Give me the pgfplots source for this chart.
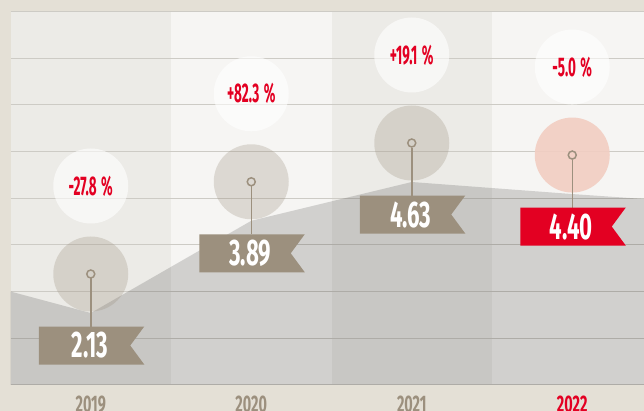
\documentclass[border=0pt]{standalone}
\usepackage{fontspec}
\setmainfont{Fira Sans}
\newfontfamily\cond{Fira Sans}[FakeStretch=0.6]
\newfontfamily\condn{Fira Sans}[FakeStretch=0.5]
\usepackage{pgfplots}
\pgfplotsset{compat=1.18}

\definecolor{frame}{HTML}{E4E0D6}
\definecolor{colA}{HTML}{ECEBE7}
\definecolor{colB}{HTML}{F6F5F3}
\definecolor{gridc}{HTML}{CDCBC5}
\definecolor{taupe}{HTML}{9C907E}
\definecolor{brandred}{HTML}{E30022}
\definecolor{pinkc}{HTML}{F2CEC2}

% marks, offsets in pt relative to the data point
\pgfdeclareplotmark{disc}{\pgfpathcircle{\pgfpoint{0pt}{39pt}}{37.5pt}\pgfusepathqfill}
\pgfdeclareplotmark{halo}{\pgfpathcircle{\pgfpoint{0pt}{127pt}}{37.5pt}\pgfusepathqfill}
\pgfdeclareplotmark{stem}{%
  \pgfpathmoveto{\pgfpoint{0pt}{-13.5pt}}%
  \pgfpathlineto{\pgfpoint{0pt}{34.5pt}}%
  \pgfusepathqstroke
  \pgfpathcircle{\pgfpoint{0pt}{39pt}}{4pt}%
  \pgfusepathqstroke}
\pgfdeclareplotmark{flag}{%
  \pgfpathmoveto{\pgfpoint{-52pt}{-13.5pt}}%
  \pgfpathlineto{\pgfpoint{53.5pt}{-13.5pt}}%
  \pgfpathlineto{\pgfpoint{39.5pt}{-32.5pt}}%
  \pgfpathlineto{\pgfpoint{53.5pt}{-51.5pt}}%
  \pgfpathlineto{\pgfpoint{-52pt}{-51.5pt}}%
  \pgfpathclose
  \pgfusepathqfill}

\begin{document}
\begin{tikzpicture}
\fill[frame] (0,0) rectangle (644pt,411pt);
% alternating year columns
\fill[colA] (10.5pt,26pt) rectangle (171pt,399.5pt);
\fill[colB] (171pt,26pt) rectangle (331.5pt,399.5pt);
\fill[colA] (331.5pt,26pt) rectangle (492pt,399.5pt);
\fill[colB] (492pt,26pt) rectangle (644pt,399.5pt);
\begin{axis}[
  at={(10.5pt,26pt)}, anchor=south west,
  scale only axis, width=633.5pt, height=373.5pt,
  xmin=-0.5, xmax=3.447,
  ymin=0.756, ymax=7.884,
  xtick={0,1,2,3},
  xticklabels={2019,2020,2021,\textcolor{brandred}{2022}},
  xticklabel style={anchor=north, inner sep=0pt, yshift=-11pt,
    text=taupe, font=\cond\bfseries\fontsize{24}{24}\selectfont},
  ytick={0.756,1.647,2.538,3.429,4.32,5.211,6.102,6.993,7.884},
  yticklabels={},
  ymajorgrids,
  grid style={gridc, line width=1pt},
  axis line style={draw=none},
  tick style={draw=none},
]
% area
\addplot[draw=none, fill=black, fill opacity=0.15]
  coordinates {(-1,2.95) (0,2.13) (1,3.89) (2,4.63) (3,4.40) (4,4.19)} \closedcycle;

% discs
\addplot[only marks, mark=disc, mark options={fill=taupe, fill opacity=0.28}]
  coordinates {(0,2.13) (1,3.89) (2,4.63)};
\addplot[only marks, mark=disc, mark options={fill=pinkc, fill opacity=0.9}]
  coordinates {(3,4.40)};
\addplot[only marks, mark=halo, mark options={fill=white, fill opacity=0.6}]
  coordinates {(0,2.13) (1,3.89) (2,4.63) (3,4.40)};

% stems
\addplot[only marks, mark=stem, mark options={draw=taupe, line width=1.5pt}]
  coordinates {(0,2.13) (1,3.89) (2,4.63) (3,4.40)};

% flags
\addplot[only marks, mark=flag, mark options={fill=taupe}]
  coordinates {(0,2.13) (1,3.89) (2,4.63)};
\addplot[only marks, mark=flag, mark options={fill=brandred}]
  coordinates {(3,4.40)};

% value labels
\addplot[draw=none, mark=none, nodes near coords, point meta=explicit symbolic,
  nodes near coords style={anchor=center, inner sep=0pt, yshift=-32.5pt, xshift=-1pt,
    text=white, font=\cond\bfseries\fontsize{37}{37}\selectfont}]
  coordinates {(0,2.13)[2.13] (1,3.89)[3.89] (2,4.63)[4.63] (3,4.40)[4.40]};

% change labels
\addplot[draw=none, mark=none, nodes near coords, point meta=explicit symbolic,
  nodes near coords style={anchor=center, inner sep=0pt, yshift=127pt,
    text=brandred, font=\condn\bfseries\fontsize{27}{27}\selectfont}]
  coordinates {(0,2.13)[-27.8\,\%] (1,3.89)[+82.3\,\%] (2,4.63)[+19.1\,\%] (3,4.40)[-5.0\,\%]};
\end{axis}
\pgfresetboundingbox
\path[use as bounding box] (0,0) rectangle (644pt,411pt);
\end{tikzpicture}
\end{document}
